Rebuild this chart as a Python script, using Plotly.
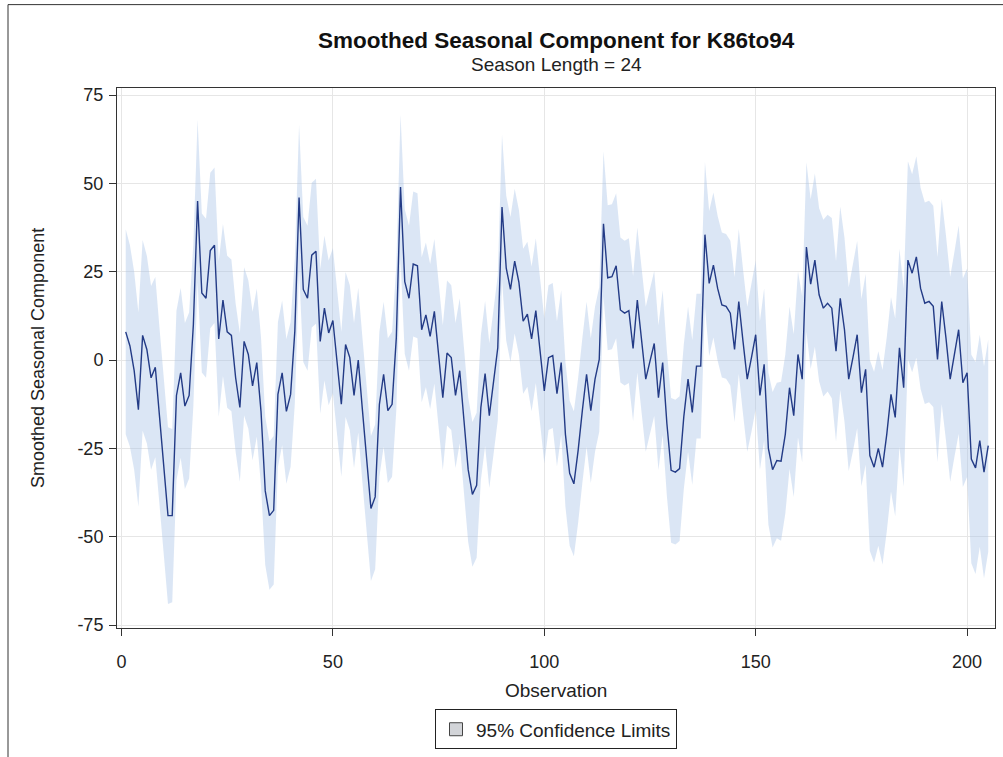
import plotly.graph_objects as go

# Observation index (1..205)
obs = list(range(1, 206))

# Smoothed seasonal component
seasonal = [
    8, 4, -3, -14, 7, 3, -5, -2, -16, -30,
    -44, -44, -10, -3.6, -13, -10, 10, 45, 19, 17.5,
    31, 32.5, 6, 17, 8, 7, -5, -13.4, 5.3, 1.6,
    -7.3, -0.7, -14.5, -37, -44, -42.5, -9.7, -3.6, -14.5, -9.7,
    8.2, 46, 20, 17.5, 29.7, 30.8, 5.3, 14.7, 7.7, 11.2,
    -1.2, -12.5, 4.4, 0.7, -10, 0, -14.3, -27.5, -42, -38.7,
    -12.5, -4, -14.3, -12.5, 6.3, 49, 22.2, 17.5, 27.2, 26.7,
    8.6, 12.8, 6.7, 13.8, 2.5, -10.6, 2, 0.7, -10, -3,
    -17, -31, -38, -35.4, -13.4, -3.8, -15.7, -6, 3.5, 43.3,
    26, 20, 28, 22, 11, 13, 6, 14, 2.5, -8.7,
    0.7, 1.3, -9.5, -0.7, -21, -32, -35, -25.6, -14.3, -4,
    -14.3, -5.4, 0.2, 38.6, 23.3, 23.6, 26.7, 14.2, 13.3, 14,
    3.3, 17, 5.8, -5.4, -0.3, 4.7, -10.6, -0.7, -18, -31.2,
    -31.7, -30.7, -16, -5.4, -14.8, -1.7, -1.7, 35.5, 21.7, 26.9,
    20.3, 15.6, 15.2, 13.3, 3, 16.6, 5.3, -5.4, 0.7, 7.2,
    -10, -1.2, -25, -31, -28.4, -28.6, -21, -7.8, -15.7, 1.6,
    -5.4, 32, 21.5, 28.3, 18.5, 14.7, 16.1, 14.7, 2.5, 17.5,
    8.6, -5.4, 0.7, 7.2, -9.2, -2.6, -27, -30.3, -25, -30.3,
    -21, -9.7, -16.2, 3.5, -7.8, 28.3, 24.6, 29.2, 20.3, 16.1,
    16.6, 15.2, 0.2, 16.6, 6.3, -5.4, 1.6, 8.6, -6.4, -3.6,
    -28, -30.5, -22.8, -31.7, -24.2,
]

# Half-width of the 95% confidence band
half_width = [
    29, 28.5, 28, 27.5, 27, 26.5, 26, 25.5, 25, 25,
    25, 24.5, 24, 24, 23.5, 23.5, 23, 23, 22.5, 22.5,
    22, 22, 22, 21.5, 21.5, 21.5, 21, 21, 21, 21,
    21, 21, 21, 21, 21, 21, 20.5, 20.5, 20.5, 20.5,
    20.5, 20.5, 20.5, 20.5, 20.5, 20.5, 20.5, 20.5, 20.5, 20.5,
    20.5, 20.5, 20.5, 20.5, 20.5, 20.5, 20.5, 20.5, 20.5, 20.5,
    20.5, 20.5, 20.5, 20.5, 20.5, 20.5, 20.5, 20.5, 20.5, 20.5,
    20.5, 20.5, 20.5, 20.5, 20.5, 20.5, 20.5, 20.5, 20.5, 20.5,
    20.5, 20.5, 20.5, 20.5, 20.5, 20.5, 20.5, 20.5, 20.5, 20.5,
    20.5, 20.5, 20.5, 20.5, 20.5, 20.5, 20.5, 20.5, 20.5, 20.5,
    20.5, 20.5, 20.5, 20.5, 20.5, 20.5, 20.5, 20.5, 20.5, 20.5,
    20.5, 20.5, 20.5, 20.5, 20.5, 20.5, 20.5, 20.5, 20.5, 20.5,
    20.5, 20.5, 20.5, 20.5, 20.5, 20.5, 20.5, 20.5, 20.5, 20.5,
    20.5, 20.5, 20.5, 20.5, 20.5, 20.5, 20.5, 20.5, 20.5, 20.5,
    20.5, 20.5, 20.5, 20.5, 20.5, 20.5, 20.5, 20.5, 21, 21,
    21, 21.5, 21.5, 22, 22, 22.5, 22.5, 23, 23, 23.5,
    23.5, 24, 24, 24.5, 24.5, 25, 25, 25.5, 25.5, 26,
    26, 26, 26.5, 26.5, 26.5, 27, 27, 27, 27.5, 27.5,
    27.5, 27.5, 28, 28, 28, 28, 28, 28.5, 28.5, 28.5,
    28.5, 28.5, 29, 29, 29, 29, 29, 29.5, 29.5, 29.5,
    29.5, 30, 30, 30, 30,
]

lower = [v - h for v, h in zip(seasonal, half_width)]
upper = [v + h for v, h in zip(seasonal, half_width)]

x_ticks = [0, 50, 100, 150, 200]
y_ticks = [-75, -50, -25, 0, 25, 50, 75]
y_tick_text = ["-75", "-50", "-25", "0", "25", "50", "75"]

FONT = "Liberation Sans, Arial, sans-serif"

fig = go.Figure()
fig.add_trace(go.Scatter(
    x=obs, y=lower, mode="lines", line=dict(width=0, color="rgba(0,0,0,0)"),
    showlegend=False, hoverinfo="skip",
))
fig.add_trace(go.Scatter(
    x=obs, y=upper, mode="lines", line=dict(width=0, color="rgba(0,0,0,0)"),
    fill="tonexty", fillcolor="rgba(170,195,232,0.42)",
    name="95% Confidence Limits", showlegend=False,
))
fig.add_trace(go.Scatter(
    x=obs, y=seasonal, mode="lines", line=dict(color="#233b86", width=1.4),
    showlegend=False, name="Smoothed Seasonal Component",
))
# legend entry only (square swatch like the original)
fig.add_trace(go.Scatter(
    x=[None], y=[None], mode="markers",
    marker=dict(symbol="square", size=13, color="#d2d4d8",
                line=dict(color="#444444", width=1)),
    name="95% Confidence Limits",
))

L, R, T, B = 117, 8, 88, 125
W, H = 1003, 757
pw, ph = W - L - R, H - T - B

axis_common = dict(
    showgrid=True, gridcolor="#e6e6e6", gridwidth=1,
    showline=True, linecolor="#333333", linewidth=1, mirror=True,
    ticks="outside", ticklen=7, tickcolor="#333333", tickwidth=1,
    tickfont=dict(family=FONT, size=18, color="#222222"),
    zeroline=False,
)

fig.update_layout(
    width=W, height=H,
    margin=dict(l=L, r=R, t=T, b=B),
    paper_bgcolor="white", plot_bgcolor="white",
    font=dict(family=FONT, color="#222222"),
    xaxis=dict(range=[-1.06, 206.6], tickvals=x_ticks, ticklabelstandoff=10,
               **axis_common),
    yaxis=dict(range=[-75.8, 77.0], tickvals=y_ticks, ticktext=y_tick_text,
               ticklabelstandoff=2, **axis_common),
    showlegend=True,
    legend=dict(
        orientation="h", x=0.5, xanchor="center",
        y=-(714 - 632) / ph, yanchor="top",
        bordercolor="#222222", borderwidth=1,
        font=dict(family=FONT, size=19, color="#222222"),
        itemwidth=30,
    ),
    annotations=[
        dict(text="<b>Smoothed Seasonal Component for K86to94</b>",
             xref="paper", yref="paper", x=0.5, y=1 + (88 - 40) / ph,
             xanchor="center", yanchor="middle", showarrow=False,
             font=dict(family=FONT, size=22.5, color="#111111")),
        dict(text="Season Length = 24",
             xref="paper", yref="paper", x=0.5, y=1 + (88 - 64) / ph,
             xanchor="center", yanchor="middle", showarrow=False,
             font=dict(family=FONT, size=19, color="#222222")),
        dict(text="Observation",
             xref="paper", yref="paper", x=0.5, y=-(695 - 632) / ph,
             xanchor="center", yanchor="middle", showarrow=False,
             font=dict(family=FONT, size=19, color="#222222")),
        dict(text="Smoothed Seasonal Component",
             xref="paper", yref="paper", x=(38 - L) / pw, y=0.5,
             xanchor="center", yanchor="middle", showarrow=False, textangle=-90,
             font=dict(family=FONT, size=18, color="#222222")),
    ],
    shapes=[
        dict(type="line", xref="paper", yref="paper",
             x0=(8 - L) / pw, x1=(8 - L) / pw, y0=1 + (T - 4) / ph, y1=-(H + 10 - T - ph) / ph - 1,
             line=dict(color="#333333", width=1)),
        dict(type="line", xref="paper", yref="paper",
             x0=(8 - L) / pw, x1=(W + 10 - L) / pw, y0=1 + (T - 4) / ph, y1=1 + (T - 4) / ph,
             line=dict(color="#333333", width=1)),
    ],
)

fig.write_html("out.html")
